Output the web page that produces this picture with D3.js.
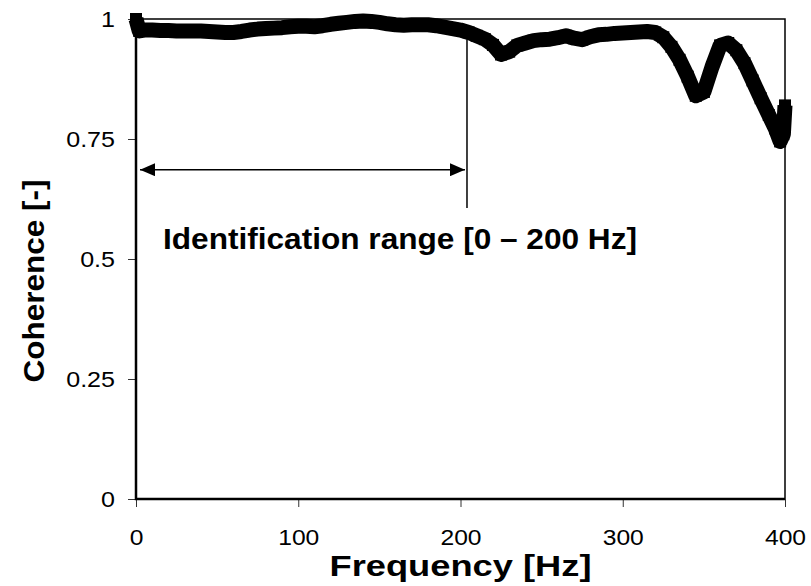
<!DOCTYPE html>
<html>
<head>
<meta charset="utf-8">
<script src="https://cdn.jsdelivr.net/npm/d3@7"></script>
<style>
  body { margin: 0; background: #fff; }
  text { font-family: "Liberation Sans", Arial, sans-serif; fill: #000; }
</style>
</head>
<body>
<div id="chart"></div>
<script>
var svgWidth = 811;
var svgHeight = 586;

var leftEdge = 136;
var rightEdge = 785;
var topEdge = 19;
var bottomEdge = 499;

// coherence values
var frequency = [0, 2, 5, 10, 15, 20, 25, 30, 35, 40, 45, 50, 55, 60, 65, 70, 75, 80, 85, 90,
    95, 100, 105, 110, 115, 120, 125, 130, 135, 140, 145, 150, 155, 160, 165, 170, 175, 180,
    185, 190, 195, 200, 205, 210, 215, 220, 225, 230, 235, 240, 245, 250, 255, 260, 265, 270,
    275, 280, 285, 290, 295, 300, 305, 310, 315, 320, 325, 330, 335, 340, 345, 350, 355, 360,
    365, 370, 375, 380, 385, 390, 394, 397, 399, 400];
var coherence = [1.0, 0.975, 0.977, 0.977, 0.976, 0.976, 0.975, 0.975, 0.975, 0.975, 0.974,
    0.973, 0.972, 0.972, 0.974, 0.977, 0.979, 0.980, 0.981, 0.982, 0.984, 0.985, 0.985, 0.984,
    0.986, 0.989, 0.991, 0.993, 0.995, 0.996, 0.995, 0.993, 0.990, 0.988, 0.987, 0.988, 0.988,
    0.988, 0.986, 0.983, 0.980, 0.977, 0.972, 0.965, 0.958, 0.946, 0.926, 0.932, 0.945, 0.950,
    0.955, 0.957, 0.958, 0.961, 0.965, 0.960, 0.957, 0.963, 0.967, 0.968, 0.970, 0.971, 0.972,
    0.973, 0.974, 0.972, 0.962, 0.942, 0.915, 0.880, 0.840, 0.848, 0.900, 0.945, 0.950, 0.935,
    0.908, 0.872, 0.835, 0.800, 0.772, 0.745, 0.760, 0.820];

var xTicks = [0, 100, 200, 300, 400];
var yTicks = [0, 0.25, 0.5, 0.75, 1];
var yTickLabels = ['0', '0.25', '0.5', '0.75', '1'];

// identification range annotation (Hz, coherence)
var rangeStart = 0;
var rangeEnd = 204;
var arrowLevel = 0.686;
var markerTop = 0.958;
var markerBottom = 0.606;

var points = frequency.map(function(f, i) { return {f: f, c: coherence[i]}; });

var x = d3.scaleLinear().domain([0, 400]).range([leftEdge, rightEdge]);
var y = d3.scaleLinear().domain([0, 1]).range([bottomEdge, topEdge]);

var svg = d3.select('#chart')
    .append('svg')
    .attr('width', svgWidth)
    .attr('height', svgHeight);

// the original figure is a bit stretched sideways
function stretch(sel, factor) {
    sel.each(function() {
        var w = this.getComputedTextLength();
        d3.select(this)
            .attr('textLength', w * factor)
            .attr('lengthAdjust', 'spacingAndGlyphs');
    });
}

// frame: thin top / right
svg.append('path')
    .attr('d', `M${leftEdge},${topEdge}H${rightEdge}V${bottomEdge}`)
    .attr('fill', 'none')
    .attr('stroke', '#000')
    .attr('stroke-width', 1.5);

var yAxis = svg.append('g')
    .attr('transform', `translate(${leftEdge},0)`)
    .call(d3.axisLeft(y)
        .tickValues(yTicks)
        .tickFormat(function(d, i) { return yTickLabels[i]; })
        .tickSize(8)
        .tickPadding(13));

var xAxis = svg.append('g')
    .attr('transform', `translate(0,${bottomEdge})`)
    .call(d3.axisBottom(x)
        .tickValues(xTicks)
        .tickFormat(d3.format('d'))
        .tickSize(8));

[yAxis, xAxis].forEach(function(ax) {
    ax.select('.domain').remove();
    ax.selectAll('line').attr('stroke', '#333').attr('stroke-width', 1);
    ax.selectAll('text')
        .attr('font-family', '"Liberation Sans", Arial, sans-serif')
        .style('font-size', '22px');
});
yAxis.selectAll('text').attr('dy', '0.36em');
xAxis.selectAll('text').attr('y', 46).attr('dy', 0);
stretch(yAxis.selectAll('text'), 1.14);
stretch(xAxis.selectAll('text'), 1.12);

// thick left / bottom axis lines
svg.append('path')
    .attr('d', `M${leftEdge},${topEdge}V${bottomEdge}H${rightEdge}`)
    .attr('fill', 'none')
    .attr('stroke', '#000')
    .attr('stroke-width', 2.5);

// data: heavy line with square markers
var line = d3.line()
    .x(d => x(d.f))
    .y(d => y(d.c));

svg.append('path')
    .datum(points)
    .attr('d', line)
    .attr('fill', 'none')
    .attr('stroke', '#000')
    .attr('stroke-width', 15)
    .attr('stroke-linejoin', 'round');

var markerSize = 12;
svg.selectAll('.pt')
    .data(points)
    .enter()
    .append('rect')
    .attr('class', 'pt')
    .attr('x', d => x(d.f) - markerSize / 2)
    .attr('y', d => y(d.c) - markerSize / 2)
    .attr('width', markerSize)
    .attr('height', markerSize)
    .attr('fill', '#000');

// annotation: vertical marker line and double arrow
svg.append('line')
    .attr('x1', x(rangeEnd)).attr('x2', x(rangeEnd))
    .attr('y1', y(markerTop)).attr('y2', y(markerBottom))
    .attr('stroke', '#000')
    .attr('stroke-width', 1.5);

var defs = svg.append('defs');
defs.append('marker')
    .attr('id', 'head')
    .attr('viewBox', '0 0 15 13')
    .attr('refX', 15)
    .attr('refY', 6.5)
    .attr('markerWidth', 15)
    .attr('markerHeight', 13)
    .attr('markerUnits', 'userSpaceOnUse')
    .attr('orient', 'auto-start-reverse')
    .append('path')
    .attr('d', 'M0,0L15,6.5L0,13Z')
    .attr('fill', '#000');

svg.append('line')
    .attr('x1', x(rangeStart) + 4).attr('x2', x(rangeEnd) - 2)
    .attr('y1', y(arrowLevel)).attr('y2', y(arrowLevel))
    .attr('stroke', '#000')
    .attr('stroke-width', 1.5)
    .attr('marker-start', 'url(#head)')
    .attr('marker-end', 'url(#head)');

svg.append('text')
    .attr('x', 163)
    .attr('y', 249)
    .attr('font-weight', 'bold')
    .style('font-size', '29px')
    .attr('textLength', 474)
    .attr('lengthAdjust', 'spacingAndGlyphs')
    .text('Identification range [0 \u2013 200 Hz]');

// axis titles
svg.append('text')
    .attr('x', (leftEdge + rightEdge) / 2)
    .attr('y', 576)
    .attr('text-anchor', 'middle')
    .attr('font-weight', 'bold')
    .style('font-size', '29px')
    .attr('textLength', 262)
    .attr('lengthAdjust', 'spacingAndGlyphs')
    .text('Frequency [Hz]');

svg.append('text')
    .attr('transform', 'translate(44,281) rotate(-90)')
    .attr('text-anchor', 'middle')
    .attr('font-weight', 'bold')
    .style('font-size', '29px')
    .attr('textLength', 203)
    .attr('lengthAdjust', 'spacingAndGlyphs')
    .text('Coherence [-]');
</script>
</body>
</html>
